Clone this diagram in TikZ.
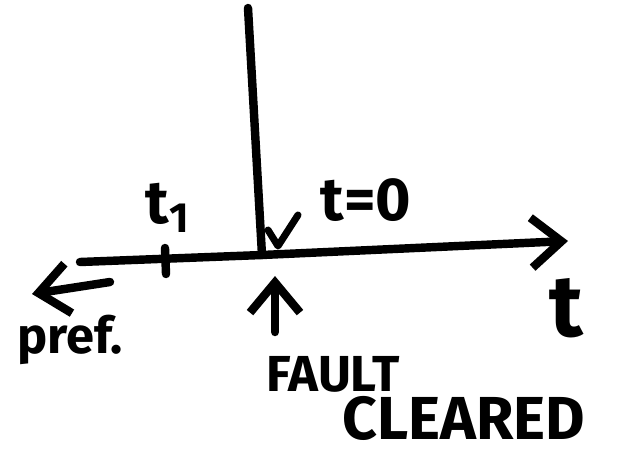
\documentclass[tikz,border=0pt]{standalone}
\usepackage{fontspec}
\setmainfont{Fira Sans}
\usetikzlibrary{positioning,arrows.meta}
\tikzset{
  pen/.style={line width=2.4pt,line cap=round,line join=round},
  arr/.style={pen,-{Straight Barb[length=3mm,width=5mm,line width=2.4pt]}},
  lbl/.style={font=\bfseries\LARGE,inner sep=0pt}
}

\begin{document}
\begin{tikzpicture}[x=1cm,y=-1cm]
  \useasboundingbox (0,0) rectangle (6.23,4.5);
  % axis
  \coordinate (left) at (0.80,2.62);
  \coordinate (o)    at (2.62,2.55);
  \coordinate (tend) at (5.68,2.41);
  \coordinate (top)  at (2.48,0.08);
  \draw[pen] (left) -- (o);
  \draw[arr] (o) -- (tend);
  \draw[pen] (top) -- (o);
  % tick at t1
  \coordinate (t1a) at (1.65,2.48);
  \coordinate (t1b) at (1.66,2.74);
  \draw[pen] (t1a) -- (t1b);
  \node[lbl] (t1) at (1.68,2.08) {t\textsubscript{1}};
  \node[lbl] (t0) at (3.66,2.00) {t=0};
  % small mark at the origin
  \coordinate (ma) at (2.68,2.30);
  \coordinate (mb) at (2.78,2.46);
  \coordinate (mc) at (2.98,2.15);
  \draw[pen,line width=2pt] (ma) -- (mb) -- (mc);
  % fault arrow
  \coordinate (fa) at (2.75,3.32);
  \coordinate (fb) at (2.75,2.76);
  \draw[arr] (fa) -- (fb);
  \node[lbl,font=\bfseries\Large] (fault) at (3.33,3.74) {FAULT};
  \node[lbl] (clr) at (4.64,4.18) {CLEARED};
  % prefault arrow
  \coordinate (pa) at (1.10,2.82);
  \coordinate (pb) at (0.32,2.94);
  \draw[arr] (pa) -- (pb);
  \node[lbl,font=\bfseries\Large] (pref) at (0.70,3.40) {pref.};
  \node[lbl,font=\bfseries\Huge] (t) at (5.66,3.08) {t};
\end{tikzpicture}
\end{document}
